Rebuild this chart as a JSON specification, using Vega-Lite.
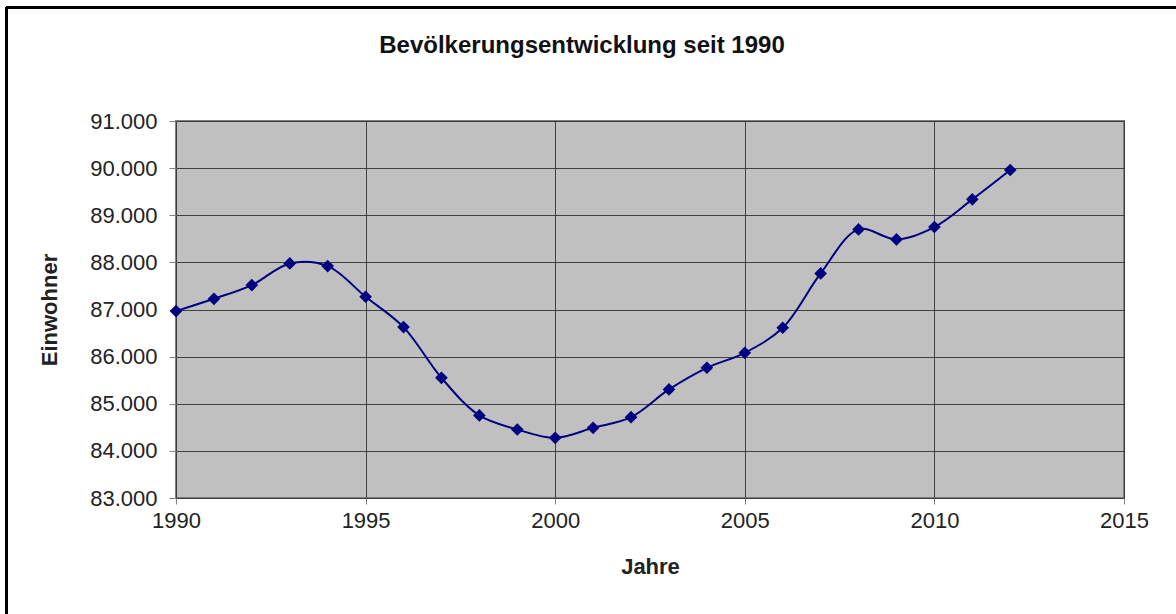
{
  "$schema": "https://vega.github.io/schema/vega-lite/v6.json",
  "autosize": {"type": "none"},
  "width": 948,
  "height": 377,
  "padding": {"left": 176, "top": 121, "right": 52, "bottom": 116},
  "background": "white",
  "title": {
    "text": "Bevölkerungsentwicklung seit 1990",
    "font": "Liberation Sans",
    "fontSize": 24,
    "fontWeight": "bold",
    "color": "#111111",
    "anchor": "middle",
    "frame": "group",
    "dx": -68,
    "baseline": "alphabetic",
    "offset": -71
  },
  "data": {
    "values": [
      {"Jahr": 1990, "Einwohner": 86966},
      {"Jahr": 1991, "Einwohner": 87227},
      {"Jahr": 1992, "Einwohner": 87518},
      {"Jahr": 1993, "Einwohner": 87978},
      {"Jahr": 1994, "Einwohner": 87921},
      {"Jahr": 1995, "Einwohner": 87270},
      {"Jahr": 1996, "Einwohner": 86626},
      {"Jahr": 1997, "Einwohner": 85550},
      {"Jahr": 1998, "Einwohner": 84752},
      {"Jahr": 1999, "Einwohner": 84454},
      {"Jahr": 2000, "Einwohner": 84276},
      {"Jahr": 2001, "Einwohner": 84489},
      {"Jahr": 2002, "Einwohner": 84716},
      {"Jahr": 2003, "Einwohner": 85304},
      {"Jahr": 2004, "Einwohner": 85763},
      {"Jahr": 2005, "Einwohner": 86081},
      {"Jahr": 2006, "Einwohner": 86612},
      {"Jahr": 2007, "Einwohner": 87766},
      {"Jahr": 2008, "Einwohner": 88700},
      {"Jahr": 2009, "Einwohner": 88488},
      {"Jahr": 2010, "Einwohner": 88750},
      {"Jahr": 2011, "Einwohner": 89337},
      {"Jahr": 2012, "Einwohner": 89960}
    ]
  },
  "encoding": {
    "x": {
      "field": "Jahr",
      "type": "quantitative",
      "scale": {"domain": [1990, 2015], "nice": false, "zero": false},
      "axis": {
        "title": "Jahre",
        "values": [1990, 1995, 2000, 2005, 2010, 2015],
        "format": "d",
        "grid": true,
        "gridColor": "#333333",
        "gridOpacity": 0.9,
        "gridWidth": 1,
        "domain": false,
        "ticks": true,
        "tickSize": 6,
        "tickColor": "#808080",
        "labelPadding": 6,
        "labelOverlap": false,
        "labelFont": "Liberation Sans",
        "labelFontSize": 22,
        "labelColor": "#222222",
        "labelFlush": false,
        "titleFont": "Liberation Sans",
        "titleFontSize": 22,
        "titleFontWeight": "bold",
        "titleColor": "#222222",
        "titlePadding": 25
      }
    },
    "y": {
      "field": "Einwohner",
      "type": "quantitative",
      "scale": {"domain": [83000, 91000], "nice": false, "zero": false},
      "axis": {
        "title": "Einwohner",
        "values": [83000, 84000, 85000, 86000, 87000, 88000, 89000, 90000, 91000],
        "labelExpr": "replace(format(datum.value, ','), ',', '.')",
        "labelOverlap": false,
        "grid": true,
        "gridColor": "#333333",
        "gridOpacity": 0.9,
        "gridWidth": 1,
        "domain": false,
        "ticks": true,
        "tickSize": 7,
        "tickColor": "#808080",
        "labelPadding": 12,
        "labelFont": "Liberation Sans",
        "labelFontSize": 22,
        "labelColor": "#222222",
        "labelFlush": false,
        "titleFont": "Liberation Sans",
        "titleFontSize": 22,
        "titleFontWeight": "bold",
        "titleColor": "#222222",
        "titlePadding": 28
      }
    }
  },
  "layer": [
    {
      "mark": {"type": "line", "color": "#000080", "strokeWidth": 2, "interpolate": "catmull-rom"}
    },
    {
      "mark": {"type": "point", "shape": "diamond", "filled": true, "color": "#000080", "size": 160, "opacity": 1}
    },
    {
      "mark": {"type": "rule", "color": "#000000", "strokeWidth": 2, "clip": false},
      "encoding": {
        "x": {"datum": 1985.53, "type": "quantitative"},
        "x2": {"datum": 2017.5},
        "y": {"datum": 93413, "type": "quantitative"}
      }
    },
    {
      "mark": {"type": "rule", "color": "#000000", "strokeWidth": 2, "clip": false},
      "encoding": {
        "x": {"datum": 1985.53, "type": "quantitative"},
        "y": {"datum": 93413, "type": "quantitative"},
        "y2": {"datum": 80000}
      }
    }
  ],
  "config": {
    "view": {"fill": "#c0c0c0", "stroke": "#808080", "strokeWidth": 2}
  }
}
